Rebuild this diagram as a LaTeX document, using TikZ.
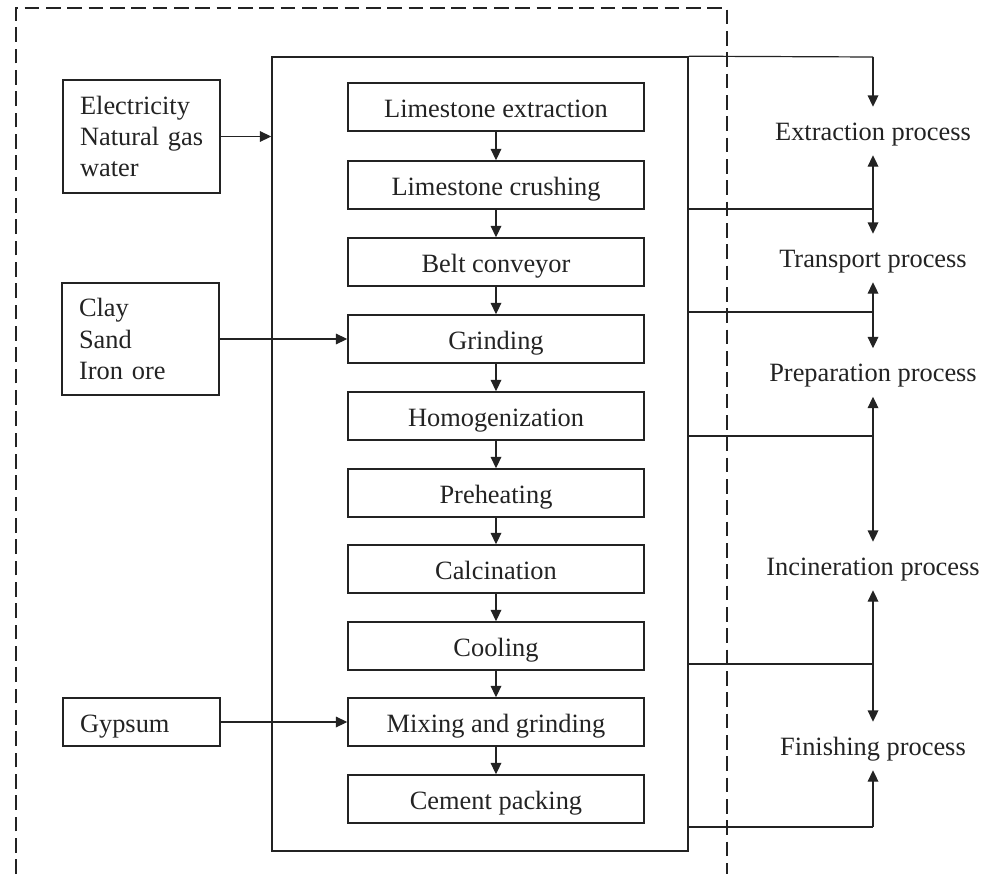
\documentclass[tikz,border=0pt]{standalone}
\usepackage{fontspec}
\setmainfont{Liberation Serif}
\usetikzlibrary{arrows.meta}
\definecolor{ink}{RGB}{35,35,35}
\newcommand{\inpad}{\hspace*{6.4pt}}
\tikzset{
  stepbox/.style={draw=ink, line width=1.2pt, minimum width=222pt, minimum height=36pt, inner sep=0pt, text=ink, text height=17pt, text depth=1pt},
  inbox/.style={draw=ink, line width=1.2pt, minimum width=117.75pt, text width=105pt, inner xsep=0pt, inner ysep=0pt, align=left, text=ink},
  proclabel/.style={minimum height=36pt, inner sep=0pt, text=ink, text height=15pt, text depth=1.5pt},
  conn/.style={draw=ink, line width=0.9pt},
  arr/.style={conn, -{Triangle[length=8.5pt,width=8pt]}},
  frame/.style={draw=ink, line width=1.3pt, dash pattern=on 11pt off 5pt},
}
\begin{document}
\begin{tikzpicture}[x=0.75pt,y=-0.75pt,font=\fontsize{19.8}{23.5}\selectfont]
\useasboundingbox (0,0) rectangle (994,874);
% dashed frame
\draw[frame] (16,874) -- (16,8) -- (727,8) -- (727,874);
% main box
\node[draw=ink, line width=1.2pt, minimum width=312pt, minimum height=595.5pt, inner sep=0pt] (main) at (480,454) {};
% process steps
\node[stepbox] (s1) at (496,107) {Limestone extraction};
\node[stepbox] (s2) at (496,185) {Limestone crushing};
\node[stepbox] (s3) at (496,262) {Belt conveyor};
\node[stepbox] (s4) at (496,339) {Grinding};
\node[stepbox] (s5) at (496,416) {Homogenization};
\node[stepbox] (s6) at (496,493) {Preheating};
\node[stepbox] (s7) at (496,569) {Calcination};
\node[stepbox] (s8) at (496,646) {Cooling};
\node[stepbox] (s9) at (496,722) {Mixing and grinding};
\node[stepbox] (s10) at (496,799) {Cement packing};
\foreach \a/\b in {s1/s2,s2/s3,s3/s4,s4/s5,s5/s6,s6/s7,s7/s8,s8/s9,s9/s10}
  \draw[arr] (\a.south) -- (\b.north);
% inputs
\node[inbox, minimum height=84.75pt] (elec) at (141.5,136.5) {\inpad Electricity\\\inpad Natural gas\\\inpad water};
\node[inbox, minimum height=84pt] (clay) at (140.5,339) {\inpad Clay\\\inpad Sand\\\inpad Iron ore};
\node[inbox, minimum height=36pt, text height=17pt, text depth=1pt] (gyp) at (141.5,722) {\inpad Gypsum};
\draw[arr] (elec.east) -- (elec.east -| main.west);
\draw[arr] (clay.east) -- (s4.west);
\draw[arr] (gyp.east) -- (s9.west);
% process labels
\node[proclabel] (extr) at (873,131) {Extraction process};
\node[proclabel] (trans) at (873,258) {Transport process};
\node[proclabel] (prep) at (873,372.5) {Preparation process};
\node[proclabel] (inc) at (873,566) {Incineration process};
\node[proclabel] (fin) at (873,746) {Finishing process};
% junctions
\coordinate (j1) at (873,57);
\coordinate (j2) at (873,209);
\coordinate (j3) at (873,312);
\coordinate (j4) at (873,436);
\coordinate (j5) at (873,664);
\coordinate (j6) at (873,827);
\draw[conn] (main.north east) -- (j1);
\draw[arr] (j1) -- (extr.north);
\draw[conn] (main.east |- j2) -- (j2);
\draw[arr] (j2) -- (extr.south);
\draw[arr] (j2) -- (trans.north);
\draw[conn] (main.east |- j3) -- (j3);
\draw[arr] (j3) -- (trans.south);
\draw[arr] (j3) -- (prep.north);
\draw[conn] (main.east |- j4) -- (j4);
\draw[arr] (j4) -- (prep.south);
\draw[arr] (j4) -- (inc.north);
\draw[conn] (main.east |- j5) -- (j5);
\draw[arr] (j5) -- (inc.south);
\draw[arr] (j5) -- (fin.north);
\draw[conn] (main.east |- j6) -- (j6);
\draw[arr] (j6) -- (fin.south);
\end{tikzpicture}
\end{document}
